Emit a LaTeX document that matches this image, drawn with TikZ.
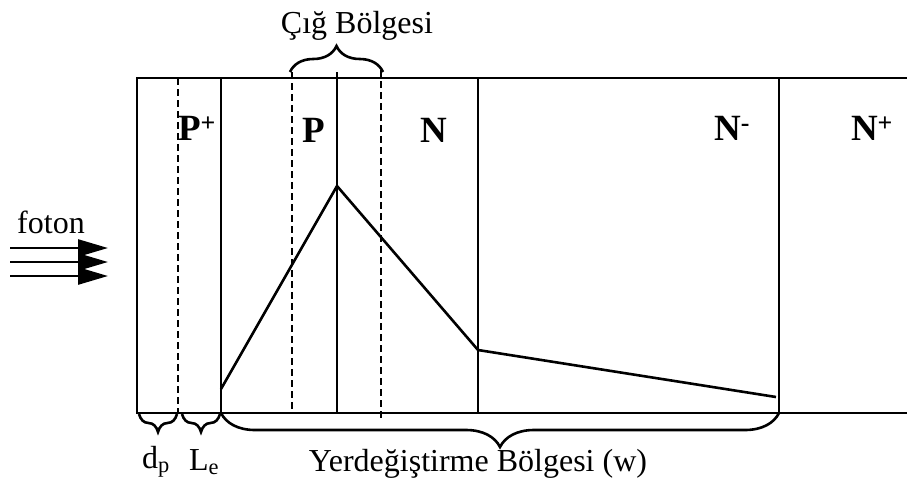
\documentclass[tikz,border=0pt]{standalone}
\usepackage{fontspec}
\setmainfont{Liberation Serif}
\usetikzlibrary{decorations.pathreplacing,arrows.meta}
\begin{document}
\begin{tikzpicture}[x=1pt,y=-1pt,
  ln/.style={line width=2.6pt},
  dsh/.style={line width=2.6pt,dash pattern=on 7pt off 4pt},
  lbl/.style={font=\fontsize{37}{37}\selectfont\bfseries},
  txt/.style={font=\fontsize{32}{32}\selectfont},
  brc/.style={line width=2.6pt,decorate},
  ray/.style={line width=2.6pt,-{Triangle[length=30pt,width=17pt]}}]
\useasboundingbox (0,0) rectangle (907,488);
% frame
\coordinate (tl) at (137,78);
\coordinate (tr) at (907,78);
\coordinate (bl) at (137,413);
\coordinate (br) at (907,413);
\draw[ln] (tr) -- (tl) -- (bl) -- (br);
% boundaries
\draw[dsh] (178,78) -- (178,413);
\draw[ln] (221,78) -- (221,413);
\draw[dsh] (292,72) -- (292,413);
\draw[ln] (337,72) -- (337,413);
\draw[dsh] (381,70) -- (381,420);
\draw[ln] (478,78) -- (478,413);
\draw[ln] (779,78) -- (779,413);
% profile
\coordinate (c1) at (221,389);
\coordinate (c2) at (337,186);
\coordinate (c3) at (478,350);
\coordinate (c4) at (776,397);
\draw[ln] (c1) -- (c2) -- (c3) -- (c4);
% region labels
\node[lbl] (pp) at (197,128) {P\textsuperscript{+}};
\node[lbl] (p) at (314,130) {P};
\node[lbl] (n) at (434,130) {N};
\node[lbl] (nm) at (732,128) {N\textsuperscript{-}};
\node[lbl] (np) at (872,128) {N\textsuperscript{+}};
% avalanche brace
\draw[brc,decoration={brace,amplitude=26pt}] (290,72) -- (383,72);
\node[txt] (cig) at (357,26) {Çığ Bölgesi};
% photon
\node[txt] (foton) at (51,222) {foton};
\coordinate (a1s) at (10,248); \coordinate (a1e) at (108,248);
\coordinate (a2s) at (10,262); \coordinate (a2e) at (108,262);
\coordinate (a3s) at (10,276); \coordinate (a3e) at (108,276);
\draw[ray] (a1s) -- (a1e);
\draw[ray] (a2s) -- (a2e);
\draw[ray] (a3s) -- (a3e);
% bottom braces
\draw[brc,decoration={brace,amplitude=18pt,mirror}] (139,414) -- (177,414);
\draw[brc,decoration={brace,amplitude=18pt,mirror}] (182,414) -- (220,414);
\draw[brc,decoration={brace,amplitude=34pt,mirror}] (221,413) -- (779,413);
\node[txt] (dp) at (156,462) {d\textsubscript{p}};
\node[txt] (le) at (204,462) {L\textsubscript{e}};
\node[txt] (yb) at (478,464) {Yerdeğiştirme Bölgesi (w)};
\end{tikzpicture}
\end{document}
